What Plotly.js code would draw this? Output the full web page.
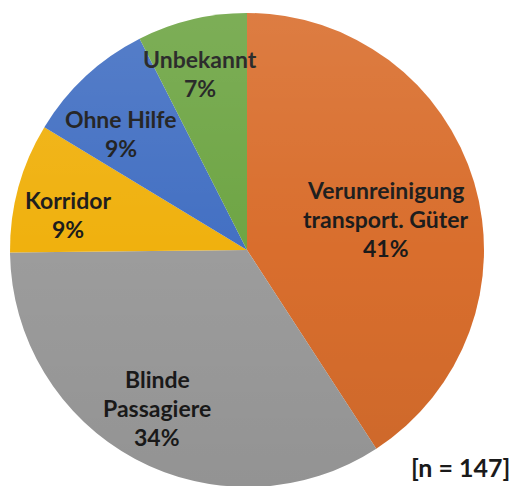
<!DOCTYPE html>
<html>
<head>
<meta charset="utf-8">
<script src="https://cdn.plot.ly/plotly-3.0.1.min.js"></script>
<style>
  html, body { margin: 0; padding: 0; background: #fff; overflow: hidden; }
  #wrap { position: relative; width: 512px; height: 500px; }
  #chart { width: 512px; height: 500px; }
  #shade { position: absolute; left: 10px; top: 13px; width: 474px; height: 474px; border-radius: 50%;
           pointer-events: none;
           background: linear-gradient(to bottom, rgba(255,255,255,0.10), rgba(255,255,255,0) 50%, rgba(0,0,0,0.06)); }
</style>
</head>
<body>
<div id="wrap"><div id="chart"></div><div id="shade"></div></div>
<script>
// Data (n = 147)
const categories = ["Verunreinigung transport. Güter", "Blinde Passagiere", "Korridor", "Ohne Hilfe", "Unbekannt"];
const labelLines = [["Verunreinigung", "transport. Güter"], ["Blinde", "Passagiere"], ["Korridor"], ["Ohne Hilfe"], ["Unbekannt"]];
const counts = [60, 50, 13, 13, 11];
const colors = ["#D96E2D", "#9C9C9C", "#F0B10E", "#4370C3", "#6EA544"];
const sampleNote = "[n = 147]";

// layout styling constants
const W = 512, H = 500;
const cx = 247, cy = 250, R = 237;
const labelRadius = [0.60, 0.765, 0.77, 0.725, 0.77];
const labelNudgeDeg = [3.8, 1.5, -4, -4.5, -1.5];
const lineGap = 29;
const fontFam = "Lato, 'Open Sans', sans-serif";

const total = counts.reduce((a, b) => a + b, 0);
const annotations = [];
let cum = 0;
counts.forEach((v, i) => {
  const mid = (cum + v / 2) / total * 360 + labelNudgeDeg[i];
  cum += v;
  const th = mid * Math.PI / 180;
  const px = cx + R * labelRadius[i] * Math.sin(th);
  const py = cy - R * labelRadius[i] * Math.cos(th);
  const lines = labelLines[i].concat([Math.round(v / total * 100) + "%"]);
  lines.forEach((t, j) => {
    annotations.push({
      xref: "paper", yref: "paper",
      x: px / W, y: (H - py) / H,
      xanchor: "center", yanchor: "middle",
      yshift: ((lines.length - 1) / 2 - j) * lineGap,
      text: "<b>" + t + "</b>", showarrow: false,
      font: { family: fontFam, size: 23, color: "#1a1a1a" }
    });
  });
});
annotations.push({
  xref: "paper", yref: "paper", x: 460 / W, y: (H - 467) / H,
  xanchor: "center", yanchor: "middle", showarrow: false,
  text: "<b>" + sampleNote + "</b>",
  font: { family: fontFam, size: 25, color: "#1a1a1a" }
});

Plotly.newPlot("chart", [{
  type: "pie",
  labels: categories,
  values: counts,
  sort: false,
  direction: "clockwise",
  rotation: 0,
  marker: { colors: colors, line: { width: 0 } },
  textinfo: "none",
  hoverinfo: "label+percent",
  domain: { x: [(cx - R) / W, (cx + R) / W], y: [(H - cy - R) / H, (H - cy + R) / H] }
}], {
  width: W, height: H,
  margin: { l: 0, r: 0, t: 0, b: 0 },
  showlegend: false,
  paper_bgcolor: "#fff",
  annotations: annotations
}, { displayModeBar: false, staticPlot: true });
</script>
</body>
</html>
